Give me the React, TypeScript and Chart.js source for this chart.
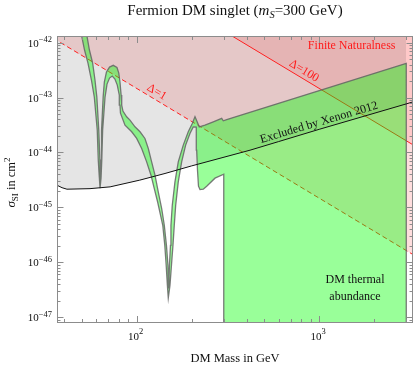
import React, { useEffect, useRef } from "react";
import { Chart, registerables } from "chart.js";

Chart.register(...registerables);

// ---------------- data (mass in GeV, cross-section in cm^2) ----------------
const xenonMass = [36.6, 39, 41.5, 55.5, 71.5, 104, 143, 200, 418, 600, 1000, 3000, 3266];
const xenonSigma = [2.53e-45, 2.28e-45, 2.14e-45, 2.19e-45, 2.36e-45, 3.13e-45, 4.14e-45, 5.69e-45, 1.1e-44, 1.58e-44, 2.64e-44, 7.67e-44, 8.36e-44];
const grayLimitMass = 3000;

const deltaMass = [35, 3500];
const deltaOneSigma = [1.2e-42, 1.2e-46];
const deltaHundredSigma = [1.2e-40, 1.2e-44];

// outline of the "DM thermal abundance" region (band + large region)
const greenMass = [
  53.1, 53.4, 55.1, 57.4, 59.1, 60.5, 62.0, 62.9, 63.2, 63.4,
  63.8, 64.2, 65.5, 66.5, 68.3, 71.0, 74.4,
  78.0, 79.8, 81.0, 82.2, 82.8, 84.1, 88.1, 91.9, 97.9, 104.3, 111.0, 115.8, 120.8, 126.0, 131.3, 137.1, 141.7, 145.6, 148.4, 149.5, 149.9,
  151.2, 153.2, 154.1, 156.7, 162.1, 169.0, 180.0, 191.7, 201.7, 208.7,
  220.3, 236.7, 262.9, 292.3, 298.2, 311.3, 3000, 3000, 300, 300,
  268.6, 241.9, 231.8, 222.3, 218.1, 215.4, 213.2, 212.1,
  204.2, 195.9, 185.5, 176.4, 169.0, 163.6, 160.7, 158.1, 155.1, 152.2, 149.0,
  147.3, 145.1, 142.6, 139.0, 130.3, 124.9, 119.8, 113.4, 106.5, 100, 93.9, 86.3, 81.5, 81.0, 80.3, 78.3, 76.0, 73.5, 71.0, 68.8, 67.1, 65.1, 64.4, 63.8, 63.0,
  62.3, 61.6, 60.8, 58.6, 56.5, 54.1, 51.8, 49.95, 49.2,
];
const greenSigma = [
  1.71e-42, 1.33e-42, 7.36e-43, 4.26e-43, 2.09e-43, 1.02e-43, 2.55e-44, 7.23e-45, 3.4e-45, 2.99e-45,
  7.23e-45, 2.55e-44, 1.02e-43, 1.92e-43, 2.92e-43, 3.6e-43, 3.87e-43,
  3.53e-43, 2.8e-43, 1.92e-43, 1.11e-43, 7.3e-44, 5.67e-44, 4.47e-44, 3.88e-44, 2.93e-44, 2.38e-44, 1.8e-44, 1.18e-44, 6.74e-45, 3.85e-45, 1.91e-45, 9.51e-46, 4.71e-46, 2.03e-46, 8.77e-47, 3.79e-47, 3.34e-47,
  8.77e-47, 2.03e-46, 4.71e-46, 1.09e-45, 2.91e-45, 6.74e-45, 1.36e-44, 2.38e-44, 3.38e-44, 4.5e-44,
  2.93e-44, 3.15e-44, 3.61e-44, 4.17e-44, 3.77e-44, 3.97e-44, 4.21e-43, 5e-48, 5e-48, 4.02e-45,
  3.4e-45, 2.43e-45, 2.14e-45, 2.11e-45, 2.43e-45, 4.75e-45, 1.1e-44, 2.9e-44,
  2.93e-44, 2.22e-44, 1.36e-44, 6.74e-45, 2.91e-45, 1.09e-45, 4.71e-46, 2.03e-46, 8.77e-47, 3.79e-47, 2.24e-47,
  3.79e-47, 8.77e-47, 2.03e-46, 4.71e-46, 1.25e-45, 2.2e-45, 3.85e-45, 6.74e-45, 1.18e-44, 1.8e-44, 2.38e-44, 3.15e-44, 5.21e-44, 7.3e-44, 1.11e-43, 1.69e-43, 2.18e-43, 2.47e-43, 2.27e-43, 1.76e-43, 1.02e-43, 2.55e-44, 7.23e-45, 3.4e-45, 2.23e-45,
  3.85e-45, 7.23e-45, 2.55e-44, 1.02e-43, 2.09e-43, 4.26e-43, 7.36e-43, 1.33e-42, 1.71e-42,
];

// axes
const xRange = [36.6, 3266];
const yRange = [7.8e-48, 1.325e-42];
const xMajorExponents = [2, 3];
const xMinorDecades = [1, 2, 3];
const yMajorExponents = [-47, -46, -45, -44, -43, -42];
const yMinorDecades = [-48, -47, -46, -45, -44, -43, -42];
const minorMultipliers = [2, 3, 4, 5, 6, 7, 8, 9];

const titleText = ["Fermion DM singlet (", "m", "S", "=300 GeV)"];
const xTitle = "DM Mass in GeV";

const notes = [
  { text: "Finite Naturalness", mass: 1507, sigma: 8.7e-43, color: "#ff1a1a", along: null },
  { text: "\u0394=1", mass: 128.7, sigma: 1.26e-43, color: "#ff1a1a", along: "one" },
  { text: "\u0394=100", mass: 825, sigma: 3.05e-43, color: "#ff1a1a", along: "hundred" },
  { text: "Excluded by Xenon 2012", mass: 998, sigma: 3.5e-44, color: "#111", along: "xenon" },
  { text: "DM thermal", mass: 1571, sigma: 4.68e-47, color: "#111", along: null },
  { text: "abundance", mass: 1571, sigma: 2.3e-47, color: "#111", along: null },
];

const SERIF = '"Liberation Serif", "Times New Roman", serif';

const pts = (xs: number[], ys: number[]) => xs.map((x, i) => ({ x, y: ys[i] }));

type Run = { t: string; font: string; dy?: number };
function drawRuns(ctx: CanvasRenderingContext2D, runs: Run[], x: number, y: number, align: string) {
  let total = 0;
  const widths = runs.map((r) => {
    ctx.font = r.font;
    const w = ctx.measureText(r.t).width;
    total += w;
    return w;
  });
  let cx = align === "center" ? x - total / 2 : align === "right" ? x - total : x;
  ctx.textAlign = "left";
  runs.forEach((r, i) => {
    ctx.font = r.font;
    ctx.fillText(r.t, cx, y + (r.dy || 0));
    cx += widths[i];
  });
}

const supMinus = (e: number) => (e < 0 ? "\u2212" + Math.abs(e) : String(e));

const decorPlugin = {
  id: "decor",
  afterDatasetsDraw(chart: any) {
    const { ctx, chartArea: a } = chart;
    const xs = chart.scales.x;
    const ys = chart.scales.y;
    ctx.save();
    // frame
    ctx.strokeStyle = "#8c8c8c";
    ctx.lineWidth = 1;
    ctx.strokeRect(a.left + 0.5, a.top + 0.5, a.right - a.left - 1, a.bottom - a.top - 1);
    // ticks
    const inX = (v: number) => v >= xRange[0] && v <= xRange[1];
    const inY = (v: number) => v >= yRange[0] && v <= yRange[1];
    const tickX = (v: number, len: number) => {
      const px = Math.round(xs.getPixelForValue(v)) + 0.5;
      ctx.beginPath();
      ctx.moveTo(px, a.bottom);
      ctx.lineTo(px, a.bottom - len);
      ctx.moveTo(px, a.top);
      ctx.lineTo(px, a.top + len);
      ctx.stroke();
    };
    const tickY = (v: number, len: number) => {
      const py = Math.round(ys.getPixelForValue(v)) + 0.5;
      ctx.beginPath();
      ctx.moveTo(a.left, py);
      ctx.lineTo(a.left + len, py);
      ctx.moveTo(a.right, py);
      ctx.lineTo(a.right - len, py);
      ctx.stroke();
    };
    xMinorDecades.forEach((e) => minorMultipliers.forEach((k) => { const v = k * Math.pow(10, e); if (inX(v)) tickX(v, 4); }));
    xMajorExponents.forEach((e) => tickX(Math.pow(10, e), 7));
    yMinorDecades.forEach((e) => minorMultipliers.forEach((k) => { const v = k * Math.pow(10, e); if (inY(v)) tickY(v, 3.5); }));
    yMajorExponents.forEach((e) => tickY(Math.pow(10, e), 6.5));

    // tick labels
    ctx.fillStyle = "#111";
    const baseFont = `11px ${SERIF}`;
    const expFont = `8.5px ${SERIF}`;
    yMajorExponents.forEach((e) => {
      const py = ys.getPixelForValue(Math.pow(10, e));
      drawRuns(ctx, [
        { t: "10", font: baseFont, dy: 4 },
        { t: supMinus(e), font: expFont, dy: -0.5 },
      ], a.left - 5, py, "right");
    });
    xMajorExponents.forEach((e) => {
      const px = xs.getPixelForValue(Math.pow(10, e));
      drawRuns(ctx, [
        { t: "10", font: baseFont, dy: 0 },
        { t: supMinus(e), font: expFont, dy: -5.5 },
      ], px - 1, a.bottom + 16.5, "center");
    });

    // annotations
    const angleOf = (m: number[], s: number[]) =>
      Math.atan2(
        ys.getPixelForValue(s[s.length - 1]) - ys.getPixelForValue(s[0]),
        xs.getPixelForValue(m[m.length - 1]) - xs.getPixelForValue(m[0])
      );
    const angles: Record<string, number> = {
      one: angleOf(deltaMass, deltaOneSigma),
      hundred: angleOf(deltaMass, deltaHundredSigma),
      xenon: angleOf(xenonMass.slice(9), xenonSigma.slice(9)),
    };
    notes.forEach((n) => {
      const px = xs.getPixelForValue(n.mass);
      const py = ys.getPixelForValue(n.sigma);
      ctx.save();
      ctx.translate(px, py);
      if (n.along) ctx.rotate(angles[n.along]);
      ctx.font = `12px ${SERIF}`;
      ctx.fillStyle = n.color;
      ctx.textAlign = "center";
      ctx.textBaseline = "middle";
      ctx.fillText(n.text, 0, 0);
      ctx.restore();
    });
    ctx.restore();
  },
  afterDraw(chart: any) {
    const { ctx, chartArea: a } = chart;
    ctx.save();
    ctx.fillStyle = "#111";
    ctx.textBaseline = "alphabetic";
    const cx = (a.left + a.right) / 2;
    drawRuns(ctx, [
      { t: titleText[0], font: `15px ${SERIF}` },
      { t: titleText[1], font: `italic 15px ${SERIF}` },
      { t: titleText[2], font: `italic 10.5px ${SERIF}`, dy: 3 },
      { t: titleText[3], font: `15px ${SERIF}` },
    ], cx, 15, "center");
    drawRuns(ctx, [{ t: xTitle, font: `12.5px ${SERIF}` }], cx, 361.5, "center");
    ctx.translate(15, (a.top + a.bottom) / 2 + 3);
    ctx.rotate(-Math.PI / 2);
    drawRuns(ctx, [
      { t: "\u03c3", font: `italic 13px ${SERIF}` },
      { t: "SI", font: `9px ${SERIF}`, dy: 3 },
      { t: " in cm", font: `12.5px ${SERIF}` },
      { t: "2", font: `9px ${SERIF}`, dy: -5 },
    ], 0, 0, "center");
    ctx.restore();
  },
};

export default function App() {
  const ref = useRef<HTMLCanvasElement | null>(null);
  useEffect(() => {
    document.body.style.margin = "0";
    const canvas = ref.current;
    if (!canvas) return;
    const none = "rgba(0,0,0,0)";
    const grayMass = xenonMass.filter((m) => m <= grayLimitMass);
    const graySigma = xenonSigma.slice(0, grayMass.length);
    const chart = new Chart(canvas, {
      type: "line",
      data: {
        datasets: [
          { data: pts(deltaMass, deltaOneSigma), fill: "end", backgroundColor: "rgba(255,0,0,0.13)", borderColor: none, borderWidth: 0, order: 6 },
          { data: pts(deltaMass, deltaHundredSigma), fill: "end", backgroundColor: "rgba(255,0,0,0.1)", borderColor: none, borderWidth: 0, order: 5 },
          { data: pts(grayMass, graySigma), fill: "end", backgroundColor: "rgba(0,0,0,0.1)", borderColor: none, borderWidth: 0, order: 4 },
          { data: pts(deltaMass, deltaOneSigma), fill: false, borderColor: "#ff2020", borderWidth: 1, borderDash: [5, 3], order: 3 },
          { data: pts(deltaMass, deltaHundredSigma), fill: false, borderColor: "#ff2020", borderWidth: 1, order: 2 },
          { data: pts(greenMass, greenSigma), fill: "shape", backgroundColor: "rgba(0,255,0,0.4)", borderColor: "rgba(100,100,100,0.85)", borderWidth: 1.3, order: 1 },
          { data: pts(xenonMass, xenonSigma), fill: false, borderColor: "#111", borderWidth: 1, order: 0 },
        ] as any,
      },
      options: {
        animation: false,
        responsive: false,
        events: [],
        layout: { padding: { left: 57, right: 4, top: 36, bottom: 42 } },
        elements: { point: { radius: 0 }, line: { tension: 0 } },
        scales: {
          x: { type: "logarithmic", min: xRange[0], max: xRange[1], display: false },
          y: { type: "logarithmic", min: yRange[0], max: yRange[1], display: false },
        },
        plugins: {
          legend: { display: false },
          tooltip: { enabled: false },
          filler: { drawTime: "beforeDatasetDraw" },
        } as any,
      },
      plugins: [decorPlugin as any],
    });
    return () => chart.destroy();
  }, []);
  return (
    <div style={{ width: 417, height: 365 }}>
      <canvas ref={ref} width={417} height={365} style={{ display: "block" }} />
    </div>
  );
}
